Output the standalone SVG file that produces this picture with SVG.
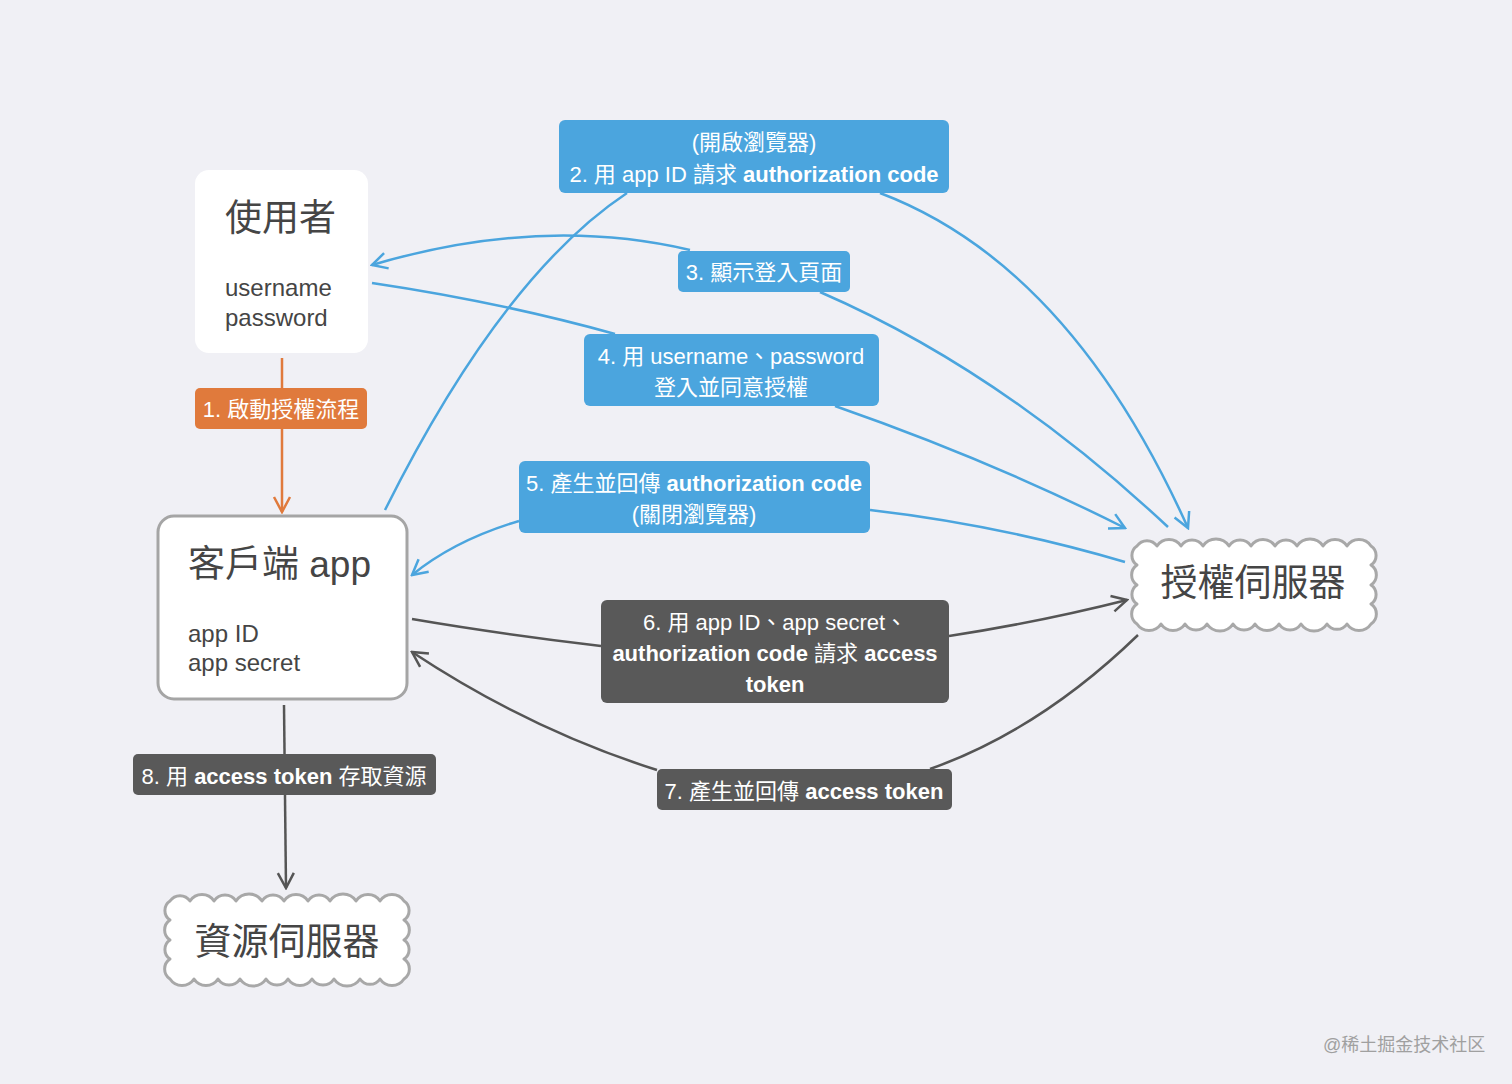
<svg xmlns="http://www.w3.org/2000/svg" xmlns:xlink="http://www.w3.org/1999/xlink" width="1512" height="1084" viewBox="0 0 1512 1084">
<style>
text{font-family:"Liberation Sans","Noto Sans CJK TC",sans-serif}
.title{font-size:37px;fill:#454545}
.sub{font-size:24px;fill:#454545}
.lbl{font-size:22px;fill:#ffffff;text-anchor:middle}
.b{font-weight:bold}
.blue{fill:#4ba5de}
.dark{fill:#595959}
.cb{fill:none;stroke:#4ba5de;stroke-width:2.5}
.cd{fill:none;stroke:#555555;stroke-width:2.5}
.co{fill:none;stroke:#e07a3c;stroke-width:2.5}
.cloud{fill:#ffffff;stroke:#a8a8a8;stroke-width:3;stroke-linejoin:round}
</style>
<defs>
<marker id="mb" viewBox="-18 -10 20 20" refX="0" refY="0" markerWidth="20" markerHeight="20" orient="auto" markerUnits="userSpaceOnUse"><path d="M-15,-8 L0,0 L-15,8" fill="none" stroke="#4ba5de" stroke-width="2.5"/></marker>
<marker id="md" viewBox="-18 -10 20 20" refX="0" refY="0" markerWidth="20" markerHeight="20" orient="auto" markerUnits="userSpaceOnUse"><path d="M-15,-8 L0,0 L-15,8" fill="none" stroke="#555555" stroke-width="2.5"/></marker>
<marker id="mo" viewBox="-18 -10 20 20" refX="0" refY="0" markerWidth="20" markerHeight="20" orient="auto" markerUnits="userSpaceOnUse"><path d="M-15,-8 L0,0 L-15,8" fill="none" stroke="#e07a3c" stroke-width="2.5"/></marker>
<path id="cloudShape" d="M0,0 a12,12 0 0 1 20,0 a14.4,14.4 0 0 1 24,0 a13.2,13.2 0 0 1 22,0 a15.6,15.6 0 0 1 26,0 a13.2,13.2 0 0 1 22,0 a14.4,14.4 0 0 1 24,0 a13.2,13.2 0 0 1 22,0 a15.6,15.6 0 0 1 26,0 a14.4,14.4 0 0 1 24,0 a14.4,14.4 0 0 1 24,0 a11.4,11.4 0 0 1 0,19 a12,12 0 0 1 0,20 a11.4,11.4 0 0 1 0,19 a12,12 0 0 1 0,20 a14.4,14.4 0 0 1 -24,0 a12,12 0 0 1 -20,0 a15.6,15.6 0 0 1 -26,0 a13.2,13.2 0 0 1 -22,0 a14.4,14.4 0 0 1 -24,0 a13.2,13.2 0 0 1 -22,0 a15.6,15.6 0 0 1 -26,0 a13.2,13.2 0 0 1 -22,0 a14.4,14.4 0 0 1 -24,0 a14.4,14.4 0 0 1 -24,0 a12,12 0 0 1 0,-20 a11.4,11.4 0 0 1 0,-19 a12,12 0 0 1 0,-20 a11.4,11.4 0 0 1 0,-19 Z"/>
</defs>
<rect width="1512" height="1084" fill="#f0f0f5"/>

<g id="connectors">
<path class="co" d="M282,358 L282,512" marker-end="url(#mo)"/>
<path class="cb" d="M385,510 Q502,276 627,193"/>
<path class="cb" d="M880,193 Q1070,265 1188,528" marker-end="url(#mb)"/>
<path class="cb" d="M1168,527 Q1000,370 820,292"/>
<path class="cb" d="M690,250 Q540,215 372,265" marker-end="url(#mb)"/>
<path class="cb" d="M372,283 Q500,302 615,334"/>
<path class="cb" d="M835,406 Q990,460 1125,528" marker-end="url(#mb)"/>
<path class="cb" d="M1125,562 Q1000,525 870,510"/>
<path class="cb" d="M519,521 Q455,540 412,575" marker-end="url(#mb)"/>
<path class="cd" d="M412,619 Q500,634 601,646"/>
<path class="cd" d="M949,636 Q1040,622 1127,600" marker-end="url(#md)"/>
<path class="cd" d="M1138,635 Q1040,730 930,769"/>
<path class="cd" d="M657,770 Q530,730 412,652" marker-end="url(#md)"/>
<path class="cd" d="M284,705 L286,888" marker-end="url(#md)"/>
</g>

<g id="node-user">
<rect x="195" y="170" width="173" height="183" rx="14" fill="#ffffff"/>
<text class="title" x="225" y="231">使用者</text>
<text class="sub" x="225" y="296">username</text>
<text class="sub" x="225" y="326">password</text>
</g>

<g id="node-client">
<rect x="158" y="516" width="249" height="183" rx="16" fill="#ffffff" stroke="#a5a5a5" stroke-width="3"/>
<text class="title" x="188" y="577">客戶端 app</text>
<text class="sub" x="188" y="642">app ID</text>
<text class="sub" x="188" y="671">app secret</text>
</g>

<g id="node-auth-server">
<use xlink:href="#cloudShape" href="#cloudShape" class="cloud" transform="translate(1137,546)"/>
<text class="title" x="1253" y="596" text-anchor="middle">授權伺服器</text>
</g>

<g id="node-resource-server">
<use xlink:href="#cloudShape" href="#cloudShape" class="cloud" transform="translate(170,901)"/>
<text class="title" x="287" y="955" text-anchor="middle">資源伺服器</text>
</g>

<g id="label-1">
<rect x="195" y="388" width="172" height="41" rx="5" fill="#e07a3c"/>
<text class="lbl" x="281" y="417">1. 啟動授權流程</text>
</g>

<g id="label-2">
<rect class="blue" x="559" y="120" width="390" height="73" rx="6"/>
<text class="lbl" x="754" y="150">(開啟瀏覽器)</text>
<text class="lbl" x="754" y="182">2. 用 app ID 請求 <tspan class="b">authorization code</tspan></text>
</g>

<g id="label-3">
<rect class="blue" x="678" y="251" width="172" height="41" rx="5"/>
<text class="lbl" x="764" y="280">3. 顯示登入頁面</text>
</g>

<g id="label-4">
<rect class="blue" x="584" y="334" width="295" height="72" rx="6"/>
<text class="lbl" x="731" y="364">4. 用 username、password</text>
<text class="lbl" x="731" y="395">登入並同意授權</text>
</g>

<g id="label-5">
<rect class="blue" x="519" y="461" width="351" height="72" rx="6"/>
<text class="lbl" x="694" y="491">5. 產生並回傳 <tspan class="b">authorization code</tspan></text>
<text class="lbl" x="694" y="522">(關閉瀏覽器)</text>
</g>

<g id="label-6">
<rect class="dark" x="601" y="600" width="348" height="103" rx="6"/>
<text class="lbl" x="775" y="630">6. 用 app ID、app secret、</text>
<text class="lbl b" x="775" y="661">authorization code <tspan font-weight="normal">請求</tspan> access</text>
<text class="lbl b" x="775" y="692">token</text>
</g>

<g id="label-7">
<rect class="dark" x="657" y="769" width="295" height="41" rx="5"/>
<text class="lbl" x="804" y="799">7. 產生並回傳 <tspan class="b">access token</tspan></text>
</g>

<g id="label-8">
<rect class="dark" x="133" y="754" width="303" height="41" rx="5"/>
<text class="lbl" x="284" y="784">8. 用 <tspan class="b">access token</tspan> 存取資源</text>
</g>

<text x="1323" y="1051" font-size="18" fill="#a0a0a0" style="font-family:'Liberation Sans','Noto Sans CJK SC',sans-serif">@稀土掘金技术社区</text>
</svg>
